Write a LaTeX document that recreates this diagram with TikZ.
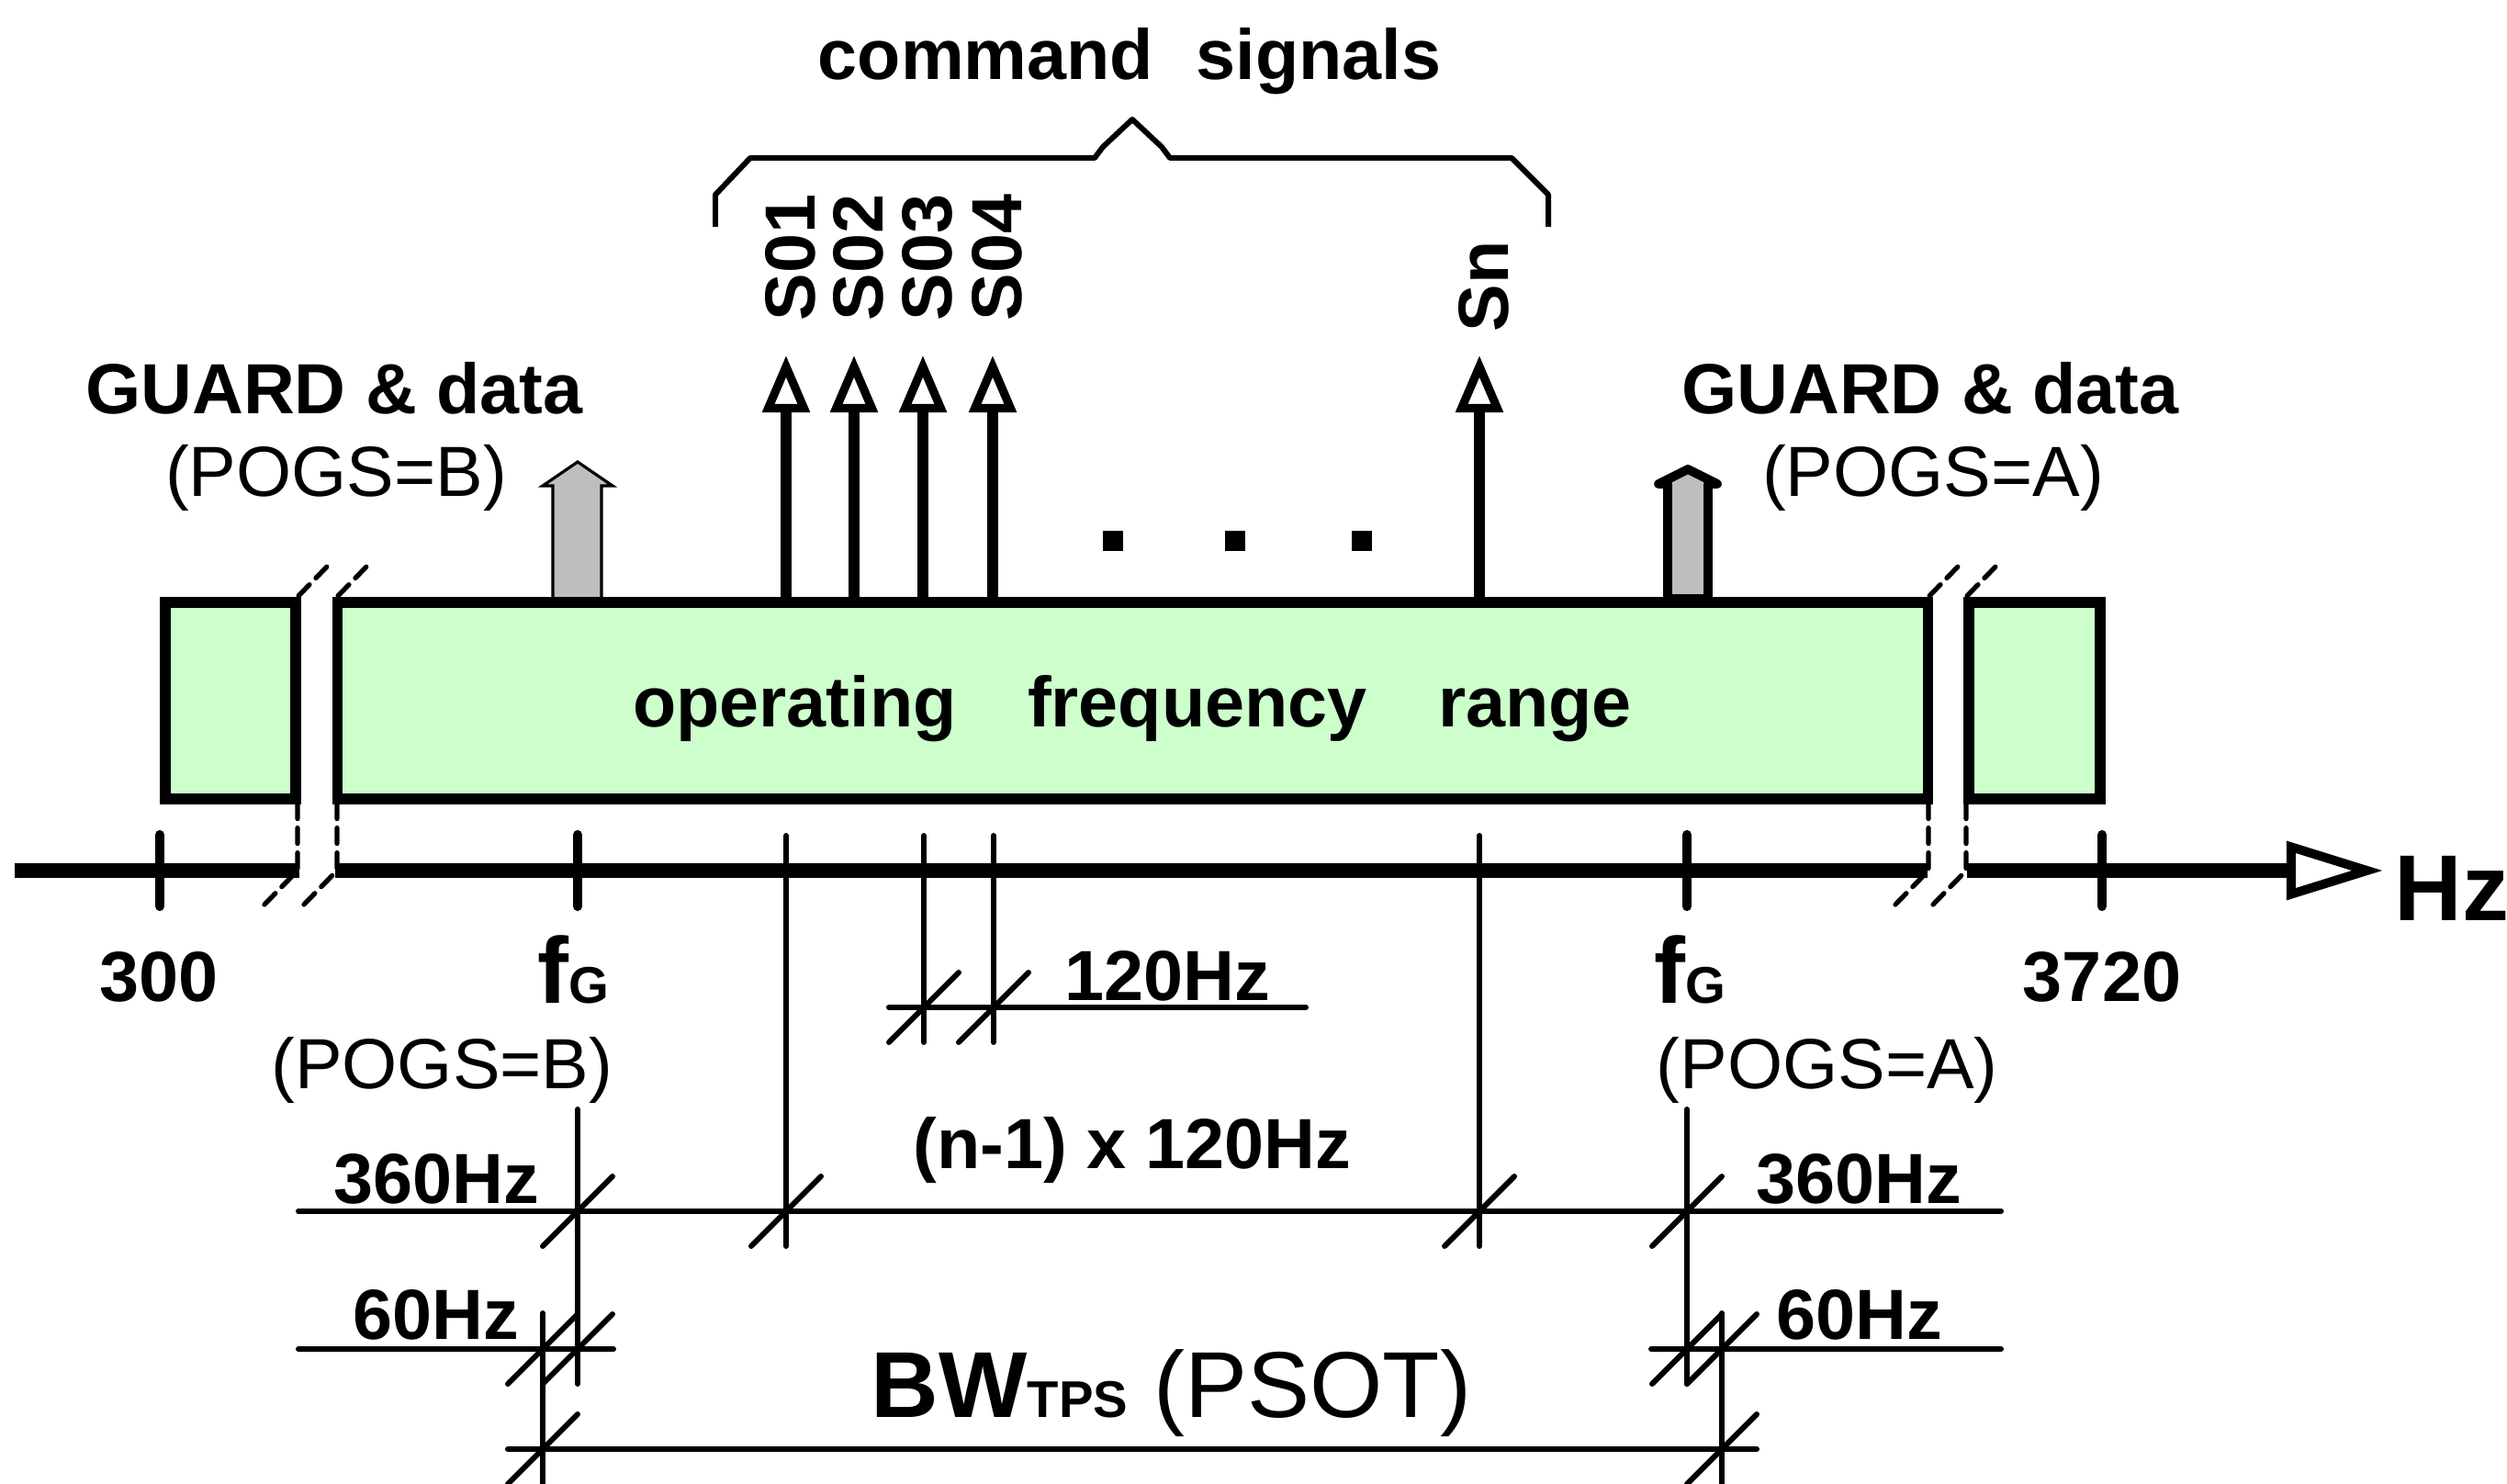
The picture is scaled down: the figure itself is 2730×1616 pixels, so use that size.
\documentclass[tikz,border=0pt]{standalone}
\usepackage{fontspec}
\setmainfont{Liberation Sans}
\usetikzlibrary{positioning,calc,arrows.meta}

\definecolor{bandgreen}{RGB}{204,255,204}
\definecolor{guardgray}{RGB}{190,190,190}

\newcommand{\subG}[1]{{\fontsize{16}{18}\selectfont #1}}

\begin{document}
\begin{tikzpicture}[
    x=0.01cm, y=-0.01cm,
    lbl/.style={font=\fontsize{22}{26}\selectfont\bfseries, inner sep=0pt, anchor=base},
    lighttext/.style={font=\fontsize{22}{26}\selectfont, inner sep=0pt, anchor=base},
    big/.style={font=\fontsize{29}{34}\selectfont\bfseries, inner sep=0pt, anchor=base west},
    band/.style={draw, line width=3.2pt, fill=bandgreen, minimum height=2.14cm, inner sep=0pt},
    axisline/.style={line width=4.3pt},
    tickmark/.style={line width=2.9pt, line cap=round},
    sig/.style={line width=3.2pt, -{Triangle[open, length=0.62cm, width=0.5cm, line width=2.6pt]}},
    dim/.style={line width=1.7pt, line cap=round},
    brk/.style={line width=1.5pt, dash pattern=on 0.17cm off 0.1cm, line cap=round},
    guard/.style={fill=guardgray},
  ]
    \useasboundingbox (0,0) rectangle (2730,1616);

    % break marks (boxes and axis are drawn over them)
    \foreach \x in {324,367,2100,2141}
      \draw[brk] (\x-36,985) -- (\x,948) -- (\x,650) -- (\x+34,615);

    % guard tones
    \draw[guard, line width=0.9pt] (602,652) -- (602,529) -- (591,529) -- (629,503)
      -- (667,529) -- (655,529) -- (655,652) -- cycle;
    \draw[guard, line width=2.8pt, line join=round] (1816,652) -- (1816,527) -- (1806,527)
      -- (1838,511) -- (1870,527) -- (1860,527) -- (1860,652) -- cycle;

    % command signals
    \foreach \x/\name/\txt/\y in {856/s1/S01/350, 930/s2/S02/350, 1005/s3/S03/350, 1081/s4/S04/350, 1611/sn/Sn/362} {
      \draw[sig] (\x,656) -- (\x,387);
      \node[lbl, rotate=90, anchor=west] (\name) at (\x+5,\y) {\txt};
    }
    \foreach \x in {1212,1345,1483}
      \fill (\x-11,578) rectangle (\x+11,600);

    \draw[line width=1.7pt, line join=round] (779,247) -- (779,212) -- (817,172) -- (1192,172)
      -- (1201,160) -- (1233,130) -- (1265,160) -- (1274,172) -- (1646,172) -- (1686,212) -- (1686,247);
    \node[lbl] (cmd) at (1230,87) {command\hspace{0.6em}signals};

    % bands
    \node[band, minimum width=1.42cm] (lowband) at (251,763) {};
    \node[band, minimum width=17.31cm] (opband) at (1233.5,763) {};
    \node[band, minimum width=1.43cm] (highband) at (2215.5,763) {};
    \node[lbl] (oprange) at (1233,791) {operating\hspace{1em}frequency\hspace{1em}range};

    \node[lbl] (guardb) at (364,451) {GUARD \& data};
    \node[lighttext] (pogsb) at (366,541) {(POGS=B)};
    \node[lbl] (guarda) at (2102,451) {GUARD \& data};
    \node[lighttext] (pogsa) at (2105,541) {(POGS=A)};

    % frequency axis
    \draw[axisline] (16,948) -- (326,948);
    \draw[axisline] (365,948) -- (2099,948);
    \draw[axisline, -{Triangle[open, length=1.05cm, width=0.62cm, line width=2.8pt]}] (2142,948) -- (2595,948);
    \foreach \x in {174,629,1837,2289}
      \draw[tickmark] (\x,909) -- (\x,987);

    \node[lbl] (f300) at (173,1090) {300};
    \node[big] (fgb) at (585,1092) {f\subG{G}};
    \node[lighttext, anchor=base east] (pogsbl) at (668,1185) {(POGS=B)};
    \node[big] (fga) at (1801,1092) {f\subG{G}};
    \node[lighttext, anchor=base west] (pogsal) at (1803,1185) {(POGS=A)};
    \node[lbl] (f3720) at (2289,1090) {3720};
    \node[big] (hz) at (2607,1002) {Hz};

    % dimension lines
    \foreach \x/\a/\b in {856/910/1357, 1006/910/1135, 1082/910/1135, 1611/910/1357,
                          629/1208/1507, 1837/1208/1507, 591/1430/1640, 1875/1430/1640}
      \draw[dim] (\x,\a) -- (\x,\b);
    \draw[dim] (968,1097) -- (1422,1097);
    \draw[dim] (325,1319) -- (2179,1319);
    \draw[dim] (325,1469) -- (668,1469);
    \draw[dim] (1798,1469) -- (2179,1469);
    \draw[dim] (553,1578) -- (1913,1578);
    \foreach \x/\y in {1006/1097, 1082/1097, 629/1319, 856/1319, 1611/1319, 1837/1319,
                       591/1469, 629/1469, 1837/1469, 1875/1469, 591/1578, 1875/1578}
      \draw[dim] (\x-38,\y+38) -- (\x+38,\y-38);

    \node[lbl] (d120) at (1271,1089) {120Hz};
    \node[lbl] (dn) at (1233,1272) {(n-1) x 120Hz};
    \node[lbl] (d360b) at (475,1310) {360Hz};
    \node[lbl] (d360a) at (2024,1310) {360Hz};
    \node[lbl] (d60b) at (475,1458) {60Hz};
    \node[lbl] (d60a) at (2025,1458) {60Hz};
    \node[big] (bw) at (948,1543) {BW\subG{TPS} \mdseries(PSOT)};
\end{tikzpicture}
\end{document}
